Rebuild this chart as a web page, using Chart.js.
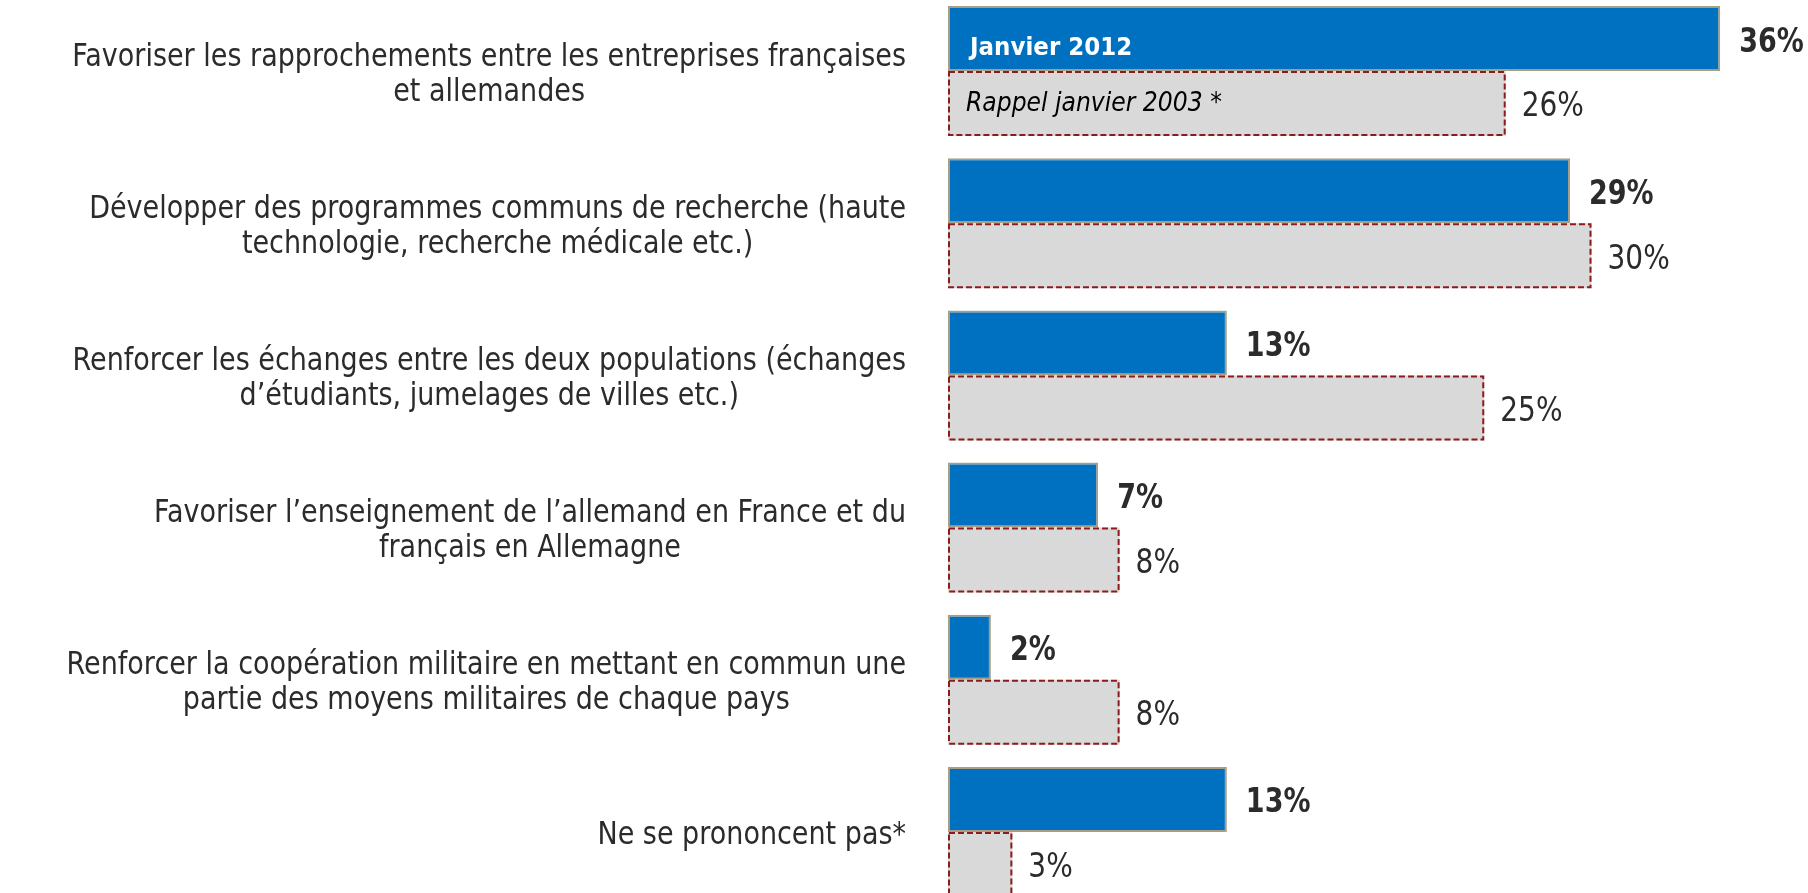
<!DOCTYPE html>
<html>
<head>
<meta charset="utf-8">
<script src="https://cdn.jsdelivr.net/npm/chart.js@4/dist/chart.umd.min.js"></script>
<style>
  html, body { margin: 0; padding: 0; background: #ffffff; overflow: hidden; }
  #wrap { position: absolute; left: 0; top: -5px; width: 1808px; height: 913px; }
</style>
</head>
<body>
<div id="wrap"><canvas id="c"></canvas></div>
<script>
const categories = [
  ["Favoriser les rapprochements entre les entreprises françaises", "et allemandes"],
  ["Développer des programmes communs de recherche (haute", "technologie, recherche médicale etc.)"],
  ["Renforcer les échanges entre les deux populations (échanges", "d’étudiants, jumelages de villes etc.)"],
  ["Favoriser l’enseignement de l’allemand en France et du", "français en Allemagne"],
  ["Renforcer la coopération militaire en mettant en commun une", "partie des moyens militaires de chaque pays"],
  ["Ne se prononcent pas*"]
];
const seriesNames = ["Janvier 2012", "Rappel janvier 2003 *"];
const values2012 = [36, 29, 13, 7, 2, 13];
const values2003 = [26, 30, 25, 8, 8, 3];

const FONT = "'DejaVu Sans', Verdana, sans-serif";
const TEXT = "#2b2b2b";

function drawText(ctx, text, x, y, opts) {
  ctx.save();
  ctx.font = opts.font;
  ctx.fillStyle = opts.color;
  ctx.textAlign = opts.align || 'left';
  ctx.textBaseline = opts.baseline || 'middle';
  ctx.translate(x, y);
  ctx.scale(1, opts.k || 1);
  ctx.fillText(text, 0, 0);
  ctx.restore();
}

const overlay = {
  id: 'overlay',
  afterDatasetsDraw(chart) {
    const ctx = chart.ctx;
    const yScale = chart.scales.y;
    const m0 = chart.getDatasetMeta(0);
    const m1 = chart.getDatasetMeta(1);
    ctx.save();

    // dashed outlines of the 2003 bars
    ctx.strokeStyle = '#8E1B1B';
    ctx.lineWidth = 2;
    ctx.setLineDash([6, 3]);
    m1.data.forEach(el => {
      const p = el.getProps(['x', 'y', 'base', 'height'], true);
      const top = p.y - p.height / 2;
      ctx.strokeRect(p.base + 1, top + 1, p.x - p.base - 2, p.height - 2);
    });
    ctx.setLineDash([]);

    // value labels
    m0.data.forEach((el, i) => {
      const p = el.getProps(['x', 'y'], true);
      drawText(ctx, values2012[i] + '%', p.x + 19, p.y + 4,
        { font: "bold 27px " + FONT, color: TEXT, k: 1.27 });
    });
    m1.data.forEach((el, i) => {
      const p = el.getProps(['x', 'y'], true);
      drawText(ctx, values2003[i] + '%', p.x + 16, p.y + 4,
        { font: "28px " + FONT, color: TEXT, k: 1.22 });
    });

    // series names inside the first bars
    const b0 = m0.data[0].getProps(['y', 'base'], true);
    const b1 = m1.data[0].getProps(['y', 'base'], true);
    drawText(ctx, seriesNames[0], b0.base + 22, b0.y + 16,
      { font: "bold 23px " + FONT, color: '#ffffff', baseline: 'alphabetic', k: 1.08 });
    drawText(ctx, seriesNames[1], b1.base + 18, b1.y + 7,
      { font: "oblique 23.5px " + FONT, color: '#000000', baseline: 'alphabetic', k: 1.1 });

    // category labels (each block right-aligned, lines centred)
    const catFont = "27px " + FONT;
    ctx.font = catFont;
    const rightEdge = chart.chartArea.left - 42;
    const lineH = 35;
    categories.forEach((lines, i) => {
      const cy = yScale.getPixelForValue(i);
      const w = Math.max(...lines.map(l => ctx.measureText(l).width));
      const cx = rightEdge - w / 2;
      const startY = cy - (lines.length - 1) * lineH / 2 + 4;
      lines.forEach((l, j) => drawText(ctx, l, cx, startY + j * lineH,
        { font: catFont, color: TEXT, align: 'center', k: 1.17 }));
    });
    ctx.restore();
  }
};

new Chart(document.getElementById('c'), {
  type: 'bar',
  data: {
    labels: categories,
    datasets: [
      {
        label: seriesNames[0],
        data: values2012,
        backgroundColor: '#0070C0',
        borderColor: '#A89E84',
        borderWidth: 2,
        borderSkipped: false,
        categoryPercentage: 0.854,
        barPercentage: 1
      },
      {
        label: seriesNames[1],
        data: values2003,
        backgroundColor: '#D9D9D9',
        borderWidth: 0,
        categoryPercentage: 0.854,
        barPercentage: 1
      }
    ]
  },
  options: {
    indexAxis: 'y',
    responsive: true,
    maintainAspectRatio: false,
    animation: false,
    layout: { padding: { left: 948, right: 2, top: 0, bottom: 0 } },
    plugins: { legend: { display: false }, tooltip: { enabled: false } },
    scales: {
      x: { display: false, min: 0, max: 40 },
      y: { display: false }
    }
  },
  plugins: [overlay]
});
</script>
</body>
</html>
